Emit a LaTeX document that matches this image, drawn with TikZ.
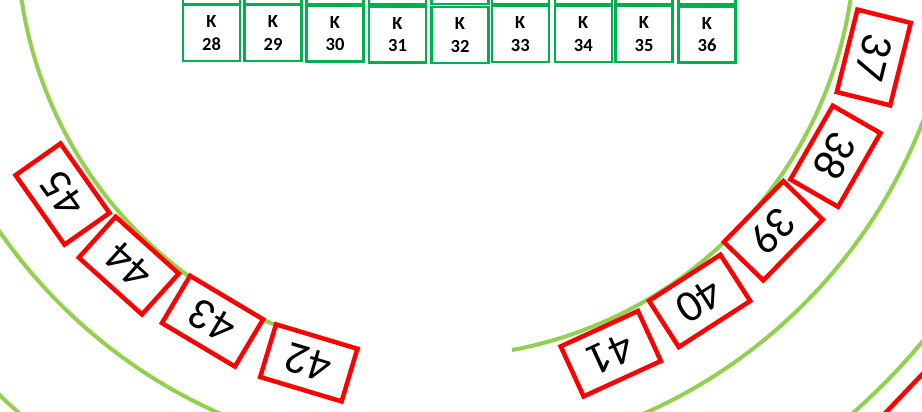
\documentclass[tikz,border=0pt]{standalone}
\usepackage{fontspec}
\setmainfont{Carlito}
\definecolor{arcgreen}{HTML}{92D050}
\definecolor{boxgreen}{HTML}{00B050}
\definecolor{seatred}{HTML}{FF0000}
\begin{document}
\begin{tikzpicture}[x=1pt,y=-1pt,
  ring/.style={draw=arcgreen,line width=4pt},
  seat/.style={draw=seatred,line width=4.5pt,fill=white,minimum width=85pt,minimum height=55pt,inner sep=0pt,font=\fontsize{45}{45}\selectfont},
  kbox/.style={draw=boxgreen,line width=2.5pt,fill=white,minimum width=57pt,minimum height=56pt,inner sep=0pt,align=center,font=\bfseries\fontsize{18.5}{22.5}\selectfont}]
\useasboundingbox (0,0) rectangle (922,412);
\clip (0,0) rectangle (922,412);
% green rings
\draw[ring] (432,-68) circle[radius=526];
\draw[ring] (436,-62) circle[radius=632];
\draw[ring] plot[domain=100.45:439.55,samples=240] ({436+419*cos(\x)},{-62+419*sin(\x)});
% upper row of green boxes (cut off)
\foreach \n/\x in {1/211.5,2/273,3/335,4/397.5,5/460,6/520.3,7/583.3,8/644,9/707}
  \node[kbox] (u\n) at (\x,-24) {};
% K boxes
\node[kbox] (k28) at (211.5,33) {K\\28};
\node[kbox] (k29) at (273,33) {K\\29};
\node[kbox] (k30) at (335,33.7) {K\\30};
\node[kbox] (k31) at (397.5,34.5) {K\\31};
\node[kbox] (k32) at (460,35) {K\\32};
\node[kbox] (k33) at (520.3,34) {K\\33};
\node[kbox] (k34) at (583.3,34.2) {K\\34};
\node[kbox] (k35) at (644,34) {K\\35};
\node[kbox] (k36) at (707,34.5) {K\\36};
% red seats, left
\node[seat,rotate=125.2] (b45) at (62.5,194.1) {45};
\node[seat,rotate=138] (b44) at (128.8,265.6) {44};
\node[seat,rotate=149.2] (b43) at (212.5,321.2) {43};
\node[seat,rotate=163.3] (b42) at (308.8,362.9) {42};
% red seats, right
\node[seat,rotate=-104] (b37) at (873.8,57.5) {37};
\node[seat,rotate=-119.9] (b38) at (835.4,156.3) {38};
\node[seat,rotate=-134.3] (b39) at (773.3,230.8) {39};
\node[seat,rotate=-147.2] (b40) at (699.6,300.9) {40};
\node[seat,rotate=-155.4] (b41) at (610.8,353.7) {41};
% partly visible seat, bottom right
\node[seat,rotate=46.4] (bpart) at (923.7,412.6) {};
\end{tikzpicture}
\end{document}
